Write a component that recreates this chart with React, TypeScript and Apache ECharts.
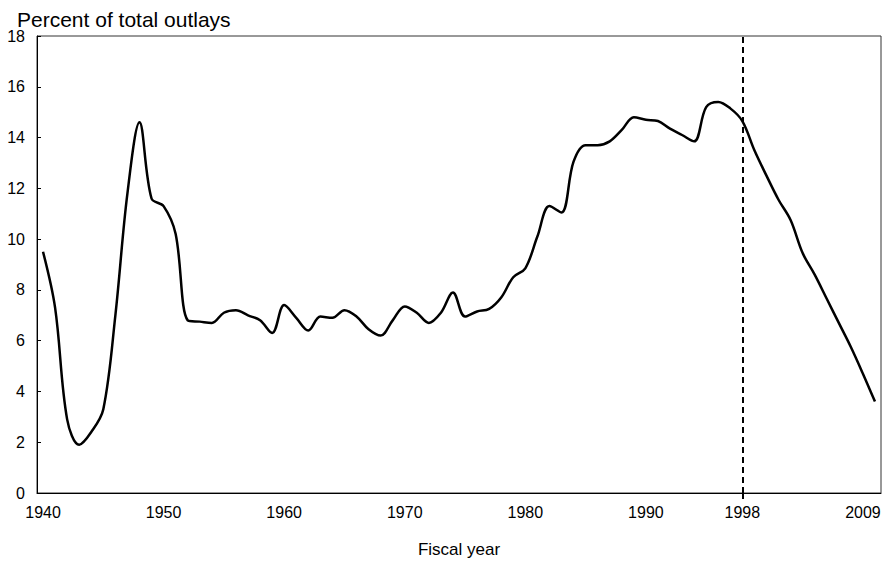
import React, { useEffect, useRef } from "react";
import * as echarts from "echarts";

const years: string[] = [
  "1940", "1941", "1942", "1943", "1944", "1945", "1946", "1947", "1948", "1949",
  "1950", "1951", "1952", "1953", "1954", "1955", "1956", "1957", "1958", "1959",
  "1960", "1961", "1962", "1963", "1964", "1965", "1966", "1967", "1968", "1969",
  "1970", "1971", "1972", "1973", "1974", "1975", "1976", "1977", "1978", "1979",
  "1980", "1981", "1982", "1983", "1984", "1985", "1986", "1987", "1988", "1989",
  "1990", "1991", "1992", "1993", "1994", "1995", "1996", "1997", "1998", "1999",
  "2000", "2001", "2002", "2003", "2004", "2005", "2006", "2007", "2008", "2009",
];

const percentOfOutlays: number[] = [
  9.5, 7.3, 2.9, 1.9, 2.4, 3.3, 7.0, 11.8, 14.6, 11.6,
  11.3, 10.2, 6.8, 6.75, 6.7, 7.1, 7.2, 7.0, 6.8, 6.3,
  7.4, 6.9, 6.4, 6.95, 6.9, 7.2, 6.95, 6.45, 6.2, 6.8,
  7.35, 7.1, 6.7, 7.1, 7.9, 6.95, 7.15, 7.25, 7.7, 8.5,
  8.85, 10.1, 11.3, 11.05, 13.05, 13.7, 13.7, 13.85, 14.3, 14.8,
  14.7, 14.65, 14.35, 14.1, 13.85, 15.2, 15.4, 15.15, 14.65, 13.5,
  12.5, 11.55, 10.75, 9.45, 8.6, 7.65, 6.7, 5.75, 4.7, 3.6,
];

const xTickLabels: string[] = ["1940", "1950", "1960", "1970", "1980", "1990", "1998", "2009"];
const markerYear = "1998";
const lastYear = "2009";

const yMin = 0;
const yMax = 18;
const yStep = 2;

const FONT = "'Liberation Sans', Arial, Helvetica, sans-serif";

export default function App() {
  const ref = useRef<HTMLDivElement>(null);

  useEffect(() => {
    if (!ref.current) return;
    const chart = echarts.init(ref.current, null, { renderer: "svg" });
    chart.setOption({
      animation: false,
      backgroundColor: "#fff",
      textStyle: { fontFamily: FONT, color: "#000" },
      title: {
        text: "Percent of total outlays",
        left: 12,
        top: 4,
        textStyle: { fontFamily: FONT, fontSize: 21, fontWeight: "normal", color: "#000" },
      },
      grid: {
        left: 37,
        right: 8,
        top: 36,
        bottom: 72,
        show: true,
        borderColor: "#333",
        borderWidth: 1,
      },
      xAxis: {
        type: "category",
        data: years,
        boundaryGap: true,
        name: "Fiscal year",
        nameLocation: "middle",
        nameGap: 48,
        nameTextStyle: { fontFamily: FONT, fontSize: 17, color: "#000" },
        axisLine: { lineStyle: { color: "#000", width: 1 } },
        axisTick: {
          show: true,
          alignWithLabel: true,
          interval: (_i: number, v: string) => v === markerYear,
          length: 7,
          lineStyle: { color: "#000", width: 2, type: [6, 4] },
        },
        axisLabel: {
          interval: (_i: number, v: string) => xTickLabels.includes(v),
          margin: 11,
          fontFamily: FONT,
          fontSize: 16,
          color: "#000",
          formatter: (v: string) => (v === lastYear ? "{last|" + v + "}" : v),
          rich: {
            last: { fontFamily: FONT, fontSize: 16, color: "#000", padding: [0, 24, 0, 0] },
          },
        },
        splitLine: { show: false },
      },
      yAxis: {
        type: "value",
        min: yMin,
        max: yMax,
        interval: yStep,
        axisLine: { show: true, lineStyle: { color: "#000", width: 1 } },
        axisTick: { show: true, inside: true, length: 4, lineStyle: { color: "#000" } },
        axisLabel: { margin: 12, fontFamily: FONT, fontSize: 16, color: "#000" },
        splitLine: { show: false },
      },
      series: [
        {
          type: "line",
          data: percentOfOutlays,
          smooth: 0.35,
          showSymbol: false,
          symbol: "none",
          lineStyle: { color: "#000", width: 2.5 },
          markLine: {
            silent: true,
            symbol: "none",
            label: { show: false },
            lineStyle: { color: "#000", width: 2, type: [6, 4] },
            data: [{ xAxis: markerYear }],
          },
        },
      ],
    });
    return () => chart.dispose();
  }, []);

  return (
    <div
      ref={ref}
      style={{ position: "fixed", left: 0, top: 0, width: 889, height: 565, background: "#fff" }}
    />
  );
}
